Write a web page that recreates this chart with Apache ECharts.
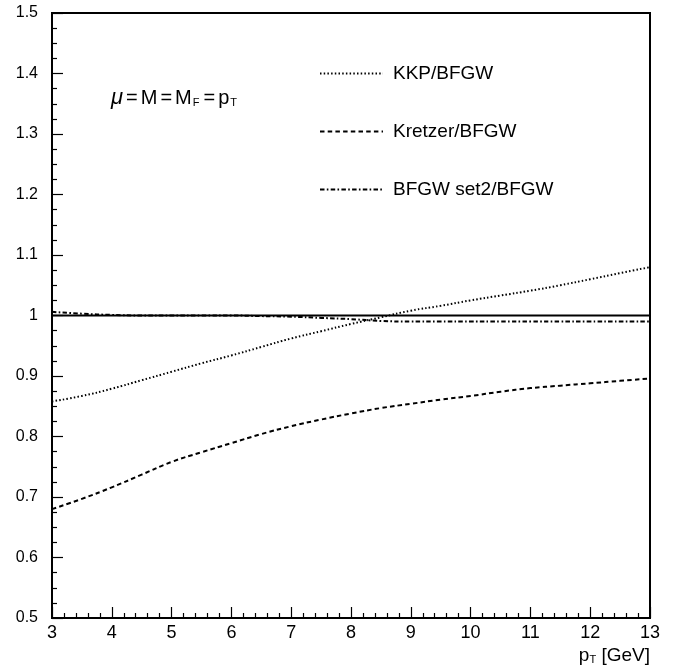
<!DOCTYPE html>
<html>
<head>
<meta charset="utf-8">
<script src="https://cdn.jsdelivr.net/npm/echarts@6/dist/echarts.min.js"></script>
<style>
html,body{margin:0;padding:0;background:#fff;}
#c{width:675px;height:671px;}
</style>
</head>
<body>
<div id="c"></div>
<script>
// Data
var ptValues = [3, 3.5, 4, 4.5, 5, 5.5, 6, 6.5, 7, 7.5, 8, 8.5, 9, 9.5, 10, 10.5, 11, 11.5, 12, 12.5, 13];
var kkpRatio = [0.858, 0.867, 0.879, 0.893, 0.907, 0.921, 0.934, 0.948, 0.962, 0.974, 0.986, 0.997, 1.008, 1.016, 1.025, 1.033, 1.041, 1.050, 1.060, 1.070, 1.080];
var kretzerRatio = [0.680, 0.697, 0.716, 0.737, 0.758, 0.774, 0.789, 0.804, 0.817, 0.828, 0.838, 0.847, 0.854, 0.861, 0.867, 0.874, 0.880, 0.884, 0.888, 0.892, 0.896];
var set2Ratio = [1.006, 1.003, 1.001, 1.000, 1.000, 1.000, 1.000, 0.999, 0.998, 0.996, 0.994, 0.991, 0.990, 0.990, 0.990, 0.990, 0.990, 0.990, 0.990, 0.990, 0.990];
var refX = [3, 13];
var refY = [1, 1];
var seriesNames = ['KKP/BFGW', 'Kretzer/BFGW', 'BFGW set2/BFGW'];

function pairs(xs, ys){ return xs.map(function(x,i){ return [x, ys[i]]; }); }

var FONT = 'Liberation Sans, Arial, Helvetica, sans-serif';
var NARROW = 'Liberation Sans Narrow, Liberation Sans, Arial, sans-serif';
var chart = echarts.init(document.getElementById('c'), null, {renderer:'canvas'});
chart.setOption({
  animation:false,
  backgroundColor:'#fff',
  grid:{left:52, top:13, right:25, bottom:53, show:true, borderColor:'#000', borderWidth:2, backgroundColor:'transparent'},
  xAxis:{
    type:'value', min:3, max:13, interval:1,
    axisLine:{show:true, onZero:false, lineStyle:{color:'#000', width:2}},
    axisTick:{show:true, inside:true, length:11, lineStyle:{color:'#000', width:1.2}},
    minorTick:{show:true, splitNumber:5, length:5, lineStyle:{color:'#000', width:1.2}},
    splitLine:{show:false},
    axisLabel:{color:'#000', fontFamily:NARROW, fontSize:18, margin:6}
  },
  yAxis:{
    type:'value', min:0.5, max:1.5, interval:0.1,
    axisLine:{show:true, onZero:false, lineStyle:{color:'#000', width:2}},
    axisTick:{show:true, inside:true, length:11, lineStyle:{color:'#000', width:1.2}},
    minorTick:{show:true, splitNumber:4, length:5, lineStyle:{color:'#000', width:1.2}},
    splitLine:{show:false},
    axisLabel:{color:'#000', fontFamily:FONT, fontSize:16, margin:14,
      formatter:function(v){ return String(Math.round(v*10)/10); }}
  },
  legend:{
    orient:'vertical', left:314, top:59, itemWidth:63, itemHeight:18, itemGap:39,
    itemStyle:{opacity:0},
    textStyle:{color:'#000', fontFamily:FONT, fontSize:19, padding:[0,0,0,5]},
    data:seriesNames, selectedMode:false
  },
  series:[
    {name:seriesNames[0], type:'line', data:pairs(ptValues,kkpRatio), smooth:true, symbol:'none',
      itemStyle:{color:'#000'},
      lineStyle:{color:'#000', width:2, type:[1.5,2.2]}},
    {name:seriesNames[1], type:'line', data:pairs(ptValues,kretzerRatio), smooth:true, symbol:'none',
      itemStyle:{color:'#000'},
      lineStyle:{color:'#000', width:2, type:[4.5,3.2]}},
    {name:seriesNames[2], type:'line', data:pairs(ptValues,set2Ratio), smooth:true, symbol:'none',
      itemStyle:{color:'#000'},
      lineStyle:{color:'#000', width:2, type:[4.5,2.3,1.6,2.3]}},
    {name:'ref', type:'line', data:pairs(refX,refY), symbol:'none', silent:true,
      itemStyle:{color:'#000'},
      lineStyle:{color:'#000', width:2, type:'solid'}}
  ],
  graphic:[
    {type:'text', left:111, top:87, style:{
      text:'{mu|μ}{e|=}{n|M}{e|=}{n|M}{s|F}{e|=}{n|p}{s|T}',
      rich:{
        mu:{fontFamily:FONT, fontSize:22, fontStyle:'italic', fill:'#000'},
        n:{fontFamily:FONT, fontSize:20, fill:'#000'},
        e:{fontFamily:FONT, fontSize:20, fill:'#000', padding:[0,3,0,3]},
        s:{fontFamily:FONT, fontSize:11, fill:'#000', padding:[9,1,0,1]}
      }}},
    {type:'text', right:25, top:646, style:{
      text:'{n|p}{s|T}{n| [GeV]}',
      rich:{
        n:{fontFamily:FONT, fontSize:19, fill:'#000'},
        s:{fontFamily:FONT, fontSize:11, fill:'#000', padding:[9,0,0,0]}
      }}}
  ]
});
</script>
</body>
</html>
